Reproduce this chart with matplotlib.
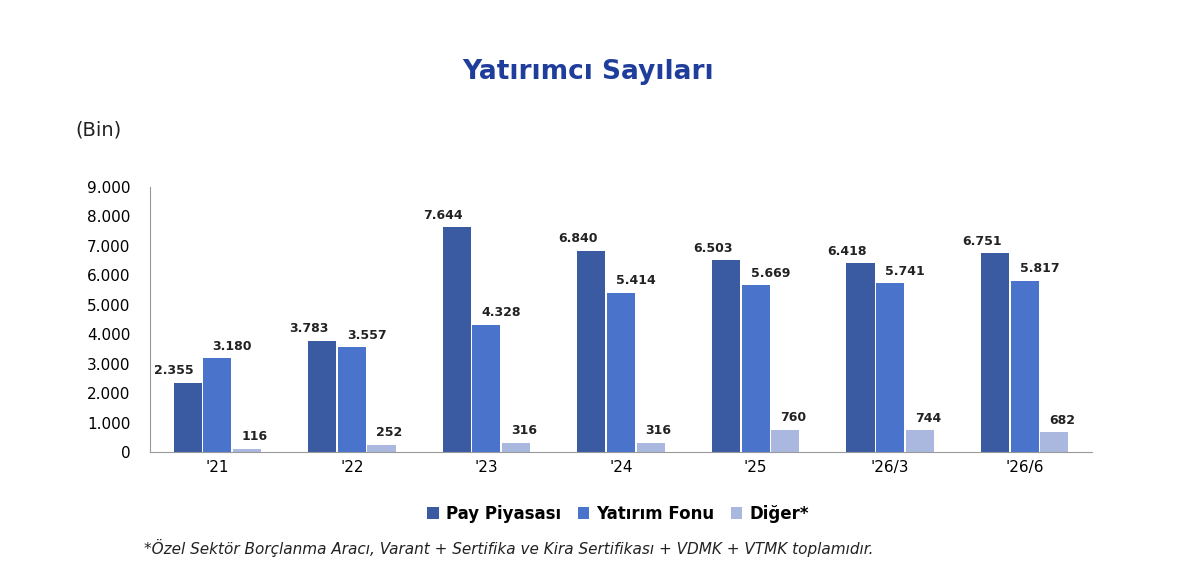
import matplotlib
matplotlib.use("Agg")
import matplotlib.pyplot as plt
import numpy as np

categories = ["'21", "'22", "'23", "'24", "'25", "'26/3", "'26/6"]
pay = [2355, 3783, 7644, 6840, 6503, 6418, 6751]
fon = [3180, 3557, 4328, 5414, 5669, 5741, 5817]
diger = [116, 252, 316, 316, 760, 744, 682]
yticks = list(range(0, 9001, 1000))

def fmt(v):
    return f"{v:,}".replace(",", ".")

plt.rcParams['font.family'] = ['DejaVu Sans']
fig = plt.figure(figsize=(12, 5.77), dpi=100)
ax = fig.add_axes([0.125, 0.2166, 0.785, 0.4594])
x = np.arange(len(categories))
w = 0.22
cols = ['#3A5BA2', '#4A74CB', '#AAB8E0']
names = ['Pay Piyasası', 'Yatırım Fonu', 'Diğer*']
lab_off = [-0.1, 0.11, 0.06]
for i, (vals, c, n) in enumerate(zip([pay, fon, diger], cols, names)):
    xs = x + (i - 1) * w
    ax.bar(xs, vals, w * 0.95, color=c, label=n)
    for xi, v in zip(xs, vals):
        ax.text(xi + lab_off[i], v + 180, fmt(v), ha='center', va='bottom', fontsize=9, fontweight='bold', color='#222222')
ax.set_xlim(-0.5, 6.5)
ax.set_ylim(0, 9000)
ax.set_yticks(yticks)
ax.set_yticklabels([fmt(v) for v in yticks], fontsize=11)
ax.set_xticks(x)
ax.set_xticklabels(categories, fontsize=11)
for s in ['top', 'right']:
    ax.spines[s].set_visible(False)
ax.spines['left'].set_color('#999999')
ax.spines['bottom'].set_color('#999999')
ax.tick_params(axis='both', length=0, pad=6)
ax.tick_params(axis='y', pad=14)
fig.text(0.49, 0.875, 'Yatırımcı Sayıları', ha='center', va='center', fontsize=19, fontweight='bold', color='#1F3D9B')
fig.text(0.063, 0.775, '(Bin)', ha='left', va='center', fontsize=14, color='#222222')
leg = fig.legend(loc='center', bbox_to_anchor=(0.515, 0.11), ncol=3, frameon=False,
                 prop={'weight': 'bold', 'size': 12}, handlelength=0.7, handleheight=0.7,
                 columnspacing=1.0, handletextpad=0.4)
fig.text(0.12, 0.05, '*Özel Sektör Borçlanma Aracı, Varant + Sertifika ve Kira Sertifikası + VDMK + VTMK toplamıdır.',
         ha='left', va='center', fontsize=11, style='italic', color='#222222')
fig.savefig('out.png', dpi=100, facecolor='white')
